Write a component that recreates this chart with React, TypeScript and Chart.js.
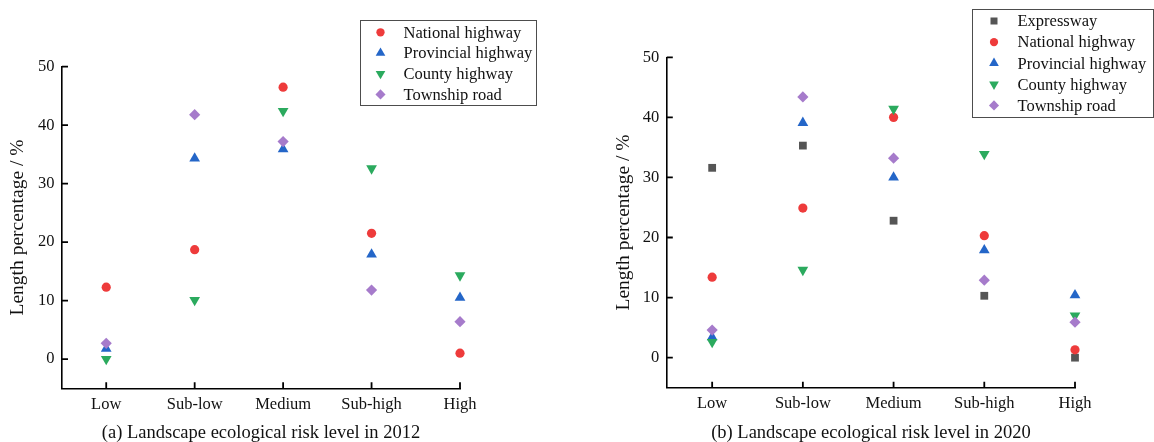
import React, { useEffect, useRef } from 'react';
import { Chart, registerables } from 'chart.js';
import { drawPoint } from 'chart.js/helpers';

Chart.register(...registerables);

// ---------- data ----------
const categories = ['Low', 'Sub-low', 'Medium', 'Sub-high', 'High'];
const yTickValues = [0, 10, 20, 30, 40, 50];

// 2012
const national2012 = [12.3, 18.7, 46.5, 21.5, 1.0];
const provincial2012 = [1.8, 34.3, 35.9, 17.9, 10.5];
const county2012 = [0.0, 10.1, 42.4, 32.6, 14.3];
const township2012 = [2.7, 41.8, 37.2, 11.8, 6.4];

// 2020
const expressway2020 = [31.6, 35.3, 22.8, 10.3, 0.0];
const national2020 = [13.4, 24.9, 40.0, 20.3, 1.3];
const provincial2020 = [3.4, 39.1, 30.0, 17.9, 10.4];
const county2020 = [2.6, 14.6, 41.4, 33.9, 7.0];
const township2020 = [4.6, 43.4, 33.2, 12.9, 5.9];

const yAxisTitle = 'Length percentage / %';
const caption2012 = '(a) Landscape ecological risk level in 2012';
const caption2020 = '(b) Landscape ecological risk level in 2020';

// ---------- styles ----------
const FONT = '"Liberation Serif", "Times New Roman", Times, serif';

type SeriesStyle = { color: string; style: string; rotation: number; radius: number };
const STY: Record<string, SeriesStyle> = {
  expressway: { color: '#555555', style: 'rect', rotation: 0, radius: 5.5 },
  national: { color: '#EE3B3B', style: 'circle', rotation: 0, radius: 4.6 },
  provincial: { color: '#2466C8', style: 'triangle', rotation: 0, radius: 6.2 },
  county: { color: '#2BAA5E', style: 'triangle', rotation: 180, radius: 6.2 },
  township: { color: '#A67BCB', style: 'rectRot', rotation: 0, radius: 5.6 },
};

type Series = { label: string; data: number[]; sty: SeriesStyle };

type Layout = {
  width: number;
  height: number;
  areaLeft: number;
  areaRight: number;
  areaTop: number;
  areaBottom: number;
  yTitlePad: number;
  legend: { x: number; y: number; w: number; h: number; markerX: number; textX: number; rowY: number; rowGap: number };
};

const layout2012: Layout = {
  width: 577,
  height: 442,
  areaLeft: 62,
  areaRight: 460,
  areaTop: 66.7,
  areaBottom: 388.3,
  yTitlePad: 6,
  legend: { x: 360, y: 20, w: 176, h: 85, markerX: 380.5, textX: 403.5, rowY: 32.3, rowGap: 20.7 },
};

const layout2020: Layout = {
  width: 577,
  height: 442,
  areaLeft: 89.8,
  areaRight: 498,
  areaTop: 57.3,
  areaBottom: 387.7,
  yTitlePad: 35.3,
  legend: { x: 395, y: 9, w: 181, h: 108, markerX: 417, textX: 440.5, rowY: 21, rowGap: 21.1 },
};

const TICK_LEN = 6;

function makeChart(canvas: HTMLCanvasElement, series: Series[], L: Layout, caption: string) {
  const overlayPlugin = {
    id: 'overlay',
    afterDraw(chart: any) {
      const ctx = chart.ctx as CanvasRenderingContext2D;
      const area = chart.chartArea;
      const xs = chart.scales.x;
      const ys = chart.scales.y;

      // inward tick marks
      ctx.save();
      ctx.strokeStyle = '#000000';
      ctx.lineWidth = 1.8;
      ctx.beginPath();
      for (const v of yTickValues) {
        const py = ys.getPixelForValue(v);
        ctx.moveTo(area.left, py);
        ctx.lineTo(area.left + TICK_LEN, py);
      }
      for (let i = 0; i < categories.length; i++) {
        const px = xs.getPixelForValue(i);
        ctx.moveTo(px, area.bottom);
        ctx.lineTo(px, area.bottom - TICK_LEN);
      }
      ctx.stroke();
      ctx.restore();

      // boxed legend
      const lg = L.legend;
      ctx.save();
      ctx.strokeStyle = '#4d4d4d';
      ctx.lineWidth = 1;
      ctx.strokeRect(lg.x + 0.5, lg.y + 0.5, lg.w, lg.h);
      ctx.font = `16.5px ${FONT}`;
      ctx.textBaseline = 'middle';
      ctx.textAlign = 'left';
      series.forEach((s, i) => {
        const y = lg.rowY + i * lg.rowGap;
        ctx.fillStyle = s.sty.color;
        ctx.strokeStyle = s.sty.color;
        drawPoint(
          ctx,
          { pointStyle: s.sty.style as any, rotation: s.sty.rotation, radius: s.sty.radius * 0.9, borderWidth: 0 } as any,
          lg.markerX,
          y
        );
        ctx.fillStyle = '#111';
        ctx.fillText(s.label, lg.textX, y + 1);
      });
      ctx.restore();
    },
  };

  const n = series.length;
  return new Chart(canvas, {
    type: 'scatter',
    data: {
      datasets: series.map((s, i) => ({
        label: s.label,
        data: s.data.map((v, k) => ({ x: k, y: v })),
        pointStyle: s.sty.style as any,
        pointRotation: s.sty.rotation,
        pointRadius: s.sty.radius,
        pointHoverRadius: s.sty.radius,
        pointBackgroundColor: s.sty.color,
        pointBorderColor: s.sty.color,
        pointBorderWidth: 0,
        backgroundColor: s.sty.color,
        borderColor: s.sty.color,
        showLine: false,
        clip: false,
        order: n - i,
      })),
    },
    options: {
      responsive: false,
      animation: false,
      events: [],
      layout: { padding: { left: 0, top: L.areaTop, right: L.width - L.areaRight, bottom: 0 } },
      plugins: { legend: { display: false }, tooltip: { enabled: false }, title: { display: false } },
      scales: {
        x: {
          type: 'linear',
          min: -0.5,
          max: categories.length - 1,
          afterBuildTicks: (s: any) => {
            s.ticks = categories.map((_, i) => ({ value: i }));
          },
          afterFit: (s: any) => {
            s.height = L.height - L.areaBottom;
          },
          ticks: {
            autoSkip: false,
            maxRotation: 0,
            minRotation: 0,
            padding: 6.5,
            color: '#111',
            font: { family: FONT, size: 16.5 },
            callback: (v: any) => categories[v as number] ?? '',
          },
          grid: { display: true, drawOnChartArea: false, drawTicks: false, color: '#000', lineWidth: 1 },
          border: { display: true, color: '#000', width: 1.6 },
          title: {
            display: true,
            text: caption,
            color: '#111',
            font: { family: FONT, size: 18.5, lineHeight: 1 },
            padding: { top: 0, bottom: 0 },
          },
        },
        y: {
          type: 'linear',
          min: -5,
          max: 50,
          afterBuildTicks: (s: any) => {
            s.ticks = yTickValues.map((v) => ({ value: v }));
          },
          afterFit: (s: any) => {
            s.width = L.areaLeft;
          },
          ticks: {
            padding: 7.5,
            color: '#111',
            font: { family: FONT, size: 16.5 },
          },
          grid: { display: true, drawOnChartArea: false, drawTicks: false, color: '#000', lineWidth: 1 },
          border: { display: true, color: '#000', width: 1.6 },
          title: {
            display: true,
            text: yAxisTitle,
            color: '#111',
            font: { family: FONT, size: 19.5, lineHeight: 1.2 },
            padding: { top: L.yTitlePad, bottom: 0 },
          },
        },
      },
    } as any,
    plugins: [overlayPlugin],
  });
}

const series2012: Series[] = [
  { label: 'National highway', data: national2012, sty: STY.national },
  { label: 'Provincial highway', data: provincial2012, sty: STY.provincial },
  { label: 'County highway', data: county2012, sty: STY.county },
  { label: 'Township road', data: township2012, sty: STY.township },
];

const series2020: Series[] = [
  { label: 'Expressway', data: expressway2020, sty: STY.expressway },
  { label: 'National highway', data: national2020, sty: STY.national },
  { label: 'Provincial highway', data: provincial2020, sty: STY.provincial },
  { label: 'County highway', data: county2020, sty: STY.county },
  { label: 'Township road', data: township2020, sty: STY.township },
];

export default function App() {
  const leftRef = useRef<HTMLCanvasElement>(null);
  const rightRef = useRef<HTMLCanvasElement>(null);

  useEffect(() => {
    const a = makeChart(leftRef.current!, series2012, layout2012, caption2012);
    const b = makeChart(rightRef.current!, series2020, layout2020, caption2020);
    return () => {
      a.destroy();
      b.destroy();
    };
  }, []);

  return (
    <div style={{ position: 'absolute', left: 0, top: 0, width: 1154, height: 442, background: '#fff', overflow: 'hidden' }}>
      <canvas ref={leftRef} width={577} height={442} style={{ position: 'absolute', left: 0, top: 0, width: 577, height: 442 }} />
      <canvas ref={rightRef} width={577} height={442} style={{ position: 'absolute', left: 577, top: 0, width: 577, height: 442 }} />
    </div>
  );
}
